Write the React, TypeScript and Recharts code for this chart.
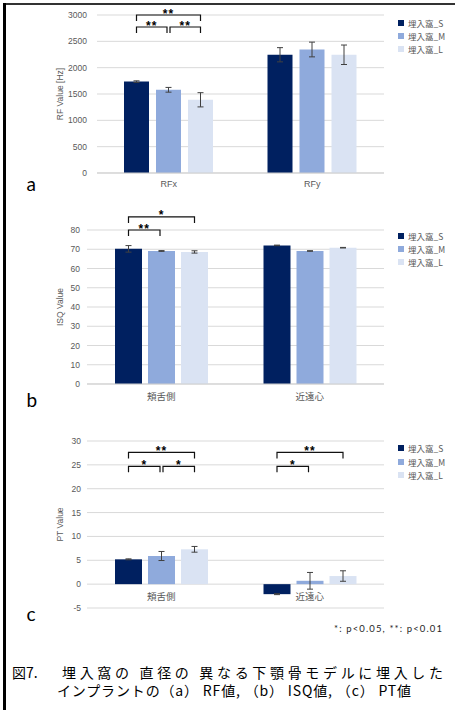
import React from "react";
import { Bar, BarChart, CartesianGrid, Rectangle, XAxis, YAxis } from "recharts";

const FONT = "'Liberation Sans', 'Noto Sans CJK JP', sans-serif";
const CJK = "'Noto Sans CJK JP', sans-serif";
const LATIN = "Lato, 'Liberation Sans', sans-serif";
const GRAY = "#595959";
const GRID = "#d9d9d9";

const seriesKeys = ["S", "M", "L"];
const seriesNames = ["埋入窩_S", "埋入窩_M", "埋入窩_L"];
const seriesColors = ["#002060", "#8FAADC", "#DAE3F3"];

// (a) RF value
const rfCategories = ["RFx", "RFy"];
const rfS = [1735, 2245];
const rfM = [1580, 2345];
const rfL = [1390, 2245];
const rfSErr = [15, 135];
const rfMErr = [45, 140];
const rfLErr = [135, 185];
const rfTicks = [0, 500, 1000, 1500, 2000, 2500, 3000];

// (b) ISQ value
const isqCategories = ["頬舌側", "近遠心"];
const isqS = [70.2, 72.0];
const isqM = [69.1, 69.1];
const isqL = [68.6, 70.8];
const isqSErr = [1.7, 0.15];
const isqMErr = [0.2, 0.15];
const isqLErr = [0.6, 0.15];
const isqTicks = [0, 10, 20, 30, 40, 50, 60, 70, 80];

// (c) PT value
const ptCategories = ["頬舌側", "近遠心"];
const ptS = [5.2, -2.1];
const ptM = [5.9, 0.7];
const ptL = [7.3, 1.7];
const ptSErr = [0.1, 0.1];
const ptMErr = [0.95, 1.75];
const ptLErr = [0.6, 1.1];
const ptTicks = [-5, 0, 5, 10, 15, 20, 25, 30];

// significance brackets: category index, series from/to, level in data units
type Sig = { cat: number; from: number; to: number; level: number; mark: string };
const rfSig: Sig[] = [
  { cat: 0, from: 0, to: 2, level: 3000, mark: "**" },
  { cat: 0, from: 0, to: 1, level: 2772, mark: "**" },
  { cat: 0, from: 1, to: 2, level: 2772, mark: "**" },
];
const isqSig: Sig[] = [
  { cat: 0, from: 0, to: 2, level: 86.8, mark: "*" },
  { cat: 0, from: 0, to: 1, level: 80, mark: "**" },
];
const ptSig: Sig[] = [
  { cat: 0, from: 0, to: 2, level: 27.6, mark: "**" },
  { cat: 0, from: 0, to: 1, level: 24.7, mark: "*" },
  { cat: 0, from: 1, to: 2, level: 24.7, mark: "*" },
  { cat: 1, from: 0, to: 2, level: 27.6, mark: "**" },
  { cat: 1, from: 0, to: 1, level: 24.7, mark: "*" },
];

function buildRows(cats: string[], s: number[], m: number[], l: number[], se: number[], me: number[], le: number[]) {
  return cats.map((cat, i) => ({ cat, S: s[i], M: m[i], L: l[i], SErr: se[i], MErr: me[i], LErr: le[i] }));
}

// bar + its error bar; the last series also draws the brackets, all from the bar's own scale
function barShape(si: number, sig: Sig[], categories: string[], gap: number) {
  return (props: any) => {
    const { x, y, width, height, fill, payload } = props;
    const key = seriesKeys[si];
    const v = payload[key];
    const err = payload[key + "Err"];
    const h = Math.abs(height);
    const top = Math.min(y, y + height);
    const k = v !== 0 ? h / Math.abs(v) : 0;
    const zeroY = v >= 0 ? top + h : top;
    const vy = zeroY - v * k;
    const mid = x + width / 2;
    const e = err * k;
    const ci = categories.indexOf(payload.cat);
    const step = width + gap;
    const centers = [mid - (si) * step, mid - (si - 1) * step, mid - (si - 2) * step];
    return (
      <g>
        <Rectangle x={x} y={top} width={width} height={h} fill={fill} />
        <path
          d={`M${mid - 3},${vy - e}H${mid + 3}M${mid},${vy - e}V${vy + e}M${mid - 3},${vy + e}H${mid + 3}`}
          stroke="#404040"
          strokeWidth={1}
          fill="none"
        />
        {si === 2 &&
          sig
            .filter((s) => s.cat === ci)
            .map((s, j) => {
              const ly = zeroY - s.level * k;
              const x1 = centers[s.from] + (s.from === 1 ? 1.5 : 0);
              const x2 = centers[s.to] - (s.to === 1 ? 1.5 : 0);
              return (
                <g key={j}>
                  <path d={`M${x1},${ly + 6}V${ly}H${x2}V${ly + 6}`} fill="none" stroke="#111" strokeWidth={1.2} />
                  <text
                    x={(x1 + x2) / 2}
                    y={ly + 2.5}
                    textAnchor="middle"
                    fontSize={12}
                    fontWeight="bold"
                    letterSpacing={1}
                    fill="#000"
                    fontFamily="'Liberation Sans', sans-serif"
                  >
                    {s.mark}
                  </text>
                </g>
              );
            })}
      </g>
    );
  };
}

function AxisTitle(props: any) {
  const { viewBox, text } = props;
  const cx = 60;
  const cy = viewBox.y + viewBox.height / 2;
  return (
    <text
      x={cx}
      y={cy}
      transform={`rotate(-90 ${cx} ${cy})`}
      textAnchor="middle"
      dominantBaseline="central"
      fontSize={8.5}
      fill={GRAY}
      fontFamily={FONT}
    >
      {text}
    </text>
  );
}

const catTick = (shift: number, size: number) => (p: any) => (
  <text x={p.x} y={p.y + shift} textAnchor="middle" fontSize={size} fill={GRAY} fontFamily={FONT}>
    {p.payload.value}
  </text>
);

function SeriesLegend({ top }: { top: number }) {
  return (
    <div style={{ position: "absolute", left: 398, top }}>
      {seriesNames.map((n, i) => (
        <div key={n} style={{ display: "flex", alignItems: "center", height: 13.3, fontSize: 8.5, color: GRAY, fontFamily: CJK }}>
          <span style={{ width: 6, height: 6, background: seriesColors[i], marginRight: 4, display: "inline-block" }} />
          {n}
        </div>
      ))}
    </div>
  );
}

type PanelProps = {
  top: number;
  height: number;
  rows: any[];
  categories: string[];
  ticks: number[];
  sig: Sig[];
  title: string;
  margin: { top: number; right: number; bottom: number; left: number };
  yWidth: number;
  yTickMargin: number;
  barSize: number;
  barGap: number;
  xHeight: number;
  xShift: number;
  xSize: number;
  showAxisLine: boolean;
};

function Panel(p: PanelProps) {
  return (
    <div style={{ position: "absolute", left: 0, top: p.top }}>
      <BarChart width={457} height={p.height} data={p.rows} margin={p.margin} barSize={p.barSize} barGap={p.barGap}>
        <CartesianGrid vertical={false} stroke={GRID} />
        <XAxis
          dataKey="cat"
          height={p.xHeight}
          tickLine={false}
          tickSize={0}
          tickMargin={0}
          axisLine={p.showAxisLine ? { stroke: "#cfcfcf" } : false}
          tick={catTick(p.xShift, p.xSize)}
        />
        <YAxis
          type="number"
          width={p.yWidth}
          domain={[p.ticks[0], p.ticks[p.ticks.length - 1]]}
          ticks={p.ticks}
          interval={0}
          tickLine={false}
          axisLine={false}
          tickSize={0}
          tickMargin={p.yTickMargin}
          tick={{ fontSize: 8.5, fill: GRAY, fontFamily: FONT }}
          label={<AxisTitle text={p.title} />}
        />
        {seriesKeys.map((k, i) => (
          <Bar
            key={k}
            dataKey={k}
            name={seriesNames[i]}
            fill={seriesColors[i]}
            isAnimationActive={false}
            shape={barShape(i, p.sig, p.categories, p.barGap)}
          />
        ))}
      </BarChart>
    </div>
  );
}

const PT_PLOT_H = 167;

export default function App() {
  const rfRows = buildRows(rfCategories, rfS, rfM, rfL, rfSErr, rfMErr, rfLErr);
  const isqRows = buildRows(isqCategories, isqS, isqM, isqL, isqSErr, isqMErr, isqLErr);
  const ptRows = buildRows(ptCategories, ptS, ptM, ptL, ptSErr, ptMErr, ptLErr);
  const ptZero = (PT_PLOT_H * (0 - ptTicks[0])) / (ptTicks[ptTicks.length - 1] - ptTicks[0]);

  return (
    <div style={{ position: "absolute", left: 0, top: 0, width: 457, height: 710, background: "#fff", overflow: "hidden" }}>
      <Panel
        top={0}
        height={200}
        rows={rfRows}
        categories={rfCategories}
        ticks={rfTicks}
        sig={rfSig}
        title="RF Value [Hz]"
        margin={{ top: 15, right: 73, bottom: 7, left: 0 }}
        yWidth={97}
        yTickMargin={10}
        barSize={25}
        barGap={7}
        xHeight={20}
        xShift={13.5}
        xSize={9}
        showAxisLine
      />
      <SeriesLegend top={16} />
      <Panel
        top={200}
        height={210}
        rows={isqRows}
        categories={isqCategories}
        ticks={isqTicks}
        sig={isqSig}
        title="ISQ Value"
        margin={{ top: 30, right: 73, bottom: 6, left: 0 }}
        yWidth={87}
        yTickMargin={7}
        barSize={27}
        barGap={6}
        xHeight={20}
        xShift={15.5}
        xSize={9.5}
        showAxisLine
      />
      <SeriesLegend top={229} />
      <Panel
        top={430}
        height={190}
        rows={ptRows}
        categories={ptCategories}
        ticks={ptTicks}
        sig={ptSig}
        title="PT Value"
        margin={{ top: 11, right: 73, bottom: 7, left: 0 }}
        yWidth={87}
        yTickMargin={6}
        barSize={27}
        barGap={6}
        xHeight={5}
        xShift={15.5 - ptZero}
        xSize={9.5}
        showAxisLine={false}
      />
      <SeriesLegend top={441.6} />
      <svg width={457} height={710} style={{ position: "absolute", left: 0, top: 0, pointerEvents: "none" }}>
        <rect x={3} y={3} width={452} height={2} fill="#333" />
        <rect x={3} y={3} width={3} height={707} fill="#000" />
        <g fontFamily={LATIN} fontSize={19} fill="#000">
          <text x={26.5} y={191}>a</text>
          <text x={26.5} y={407}>b</text>
          <text x={26.5} y={621}>c</text>
        </g>
        <text x={334} y={632} fontSize={9.5} fontFamily={LATIN} fill="#262626" textLength={108} lengthAdjust="spacing">
          {"*: p<0.05, **: p<0.01"}
        </text>
        <g fontFamily={CJK} fontSize={14} fill="#000">
          <text x={12} y={678}>図7.</text>
          <text x={62} y={678} textLength={381} lengthAdjust="spacing">
            埋入窩の 直径の 異なる下顎骨モデルに埋入した
          </text>
          <text x={57} y={696} textLength={354} lengthAdjust="spacing">
            インプラントの（a） RF値, （b） ISQ値, （c） PT値
          </text>
        </g>
      </svg>
    </div>
  );
}
